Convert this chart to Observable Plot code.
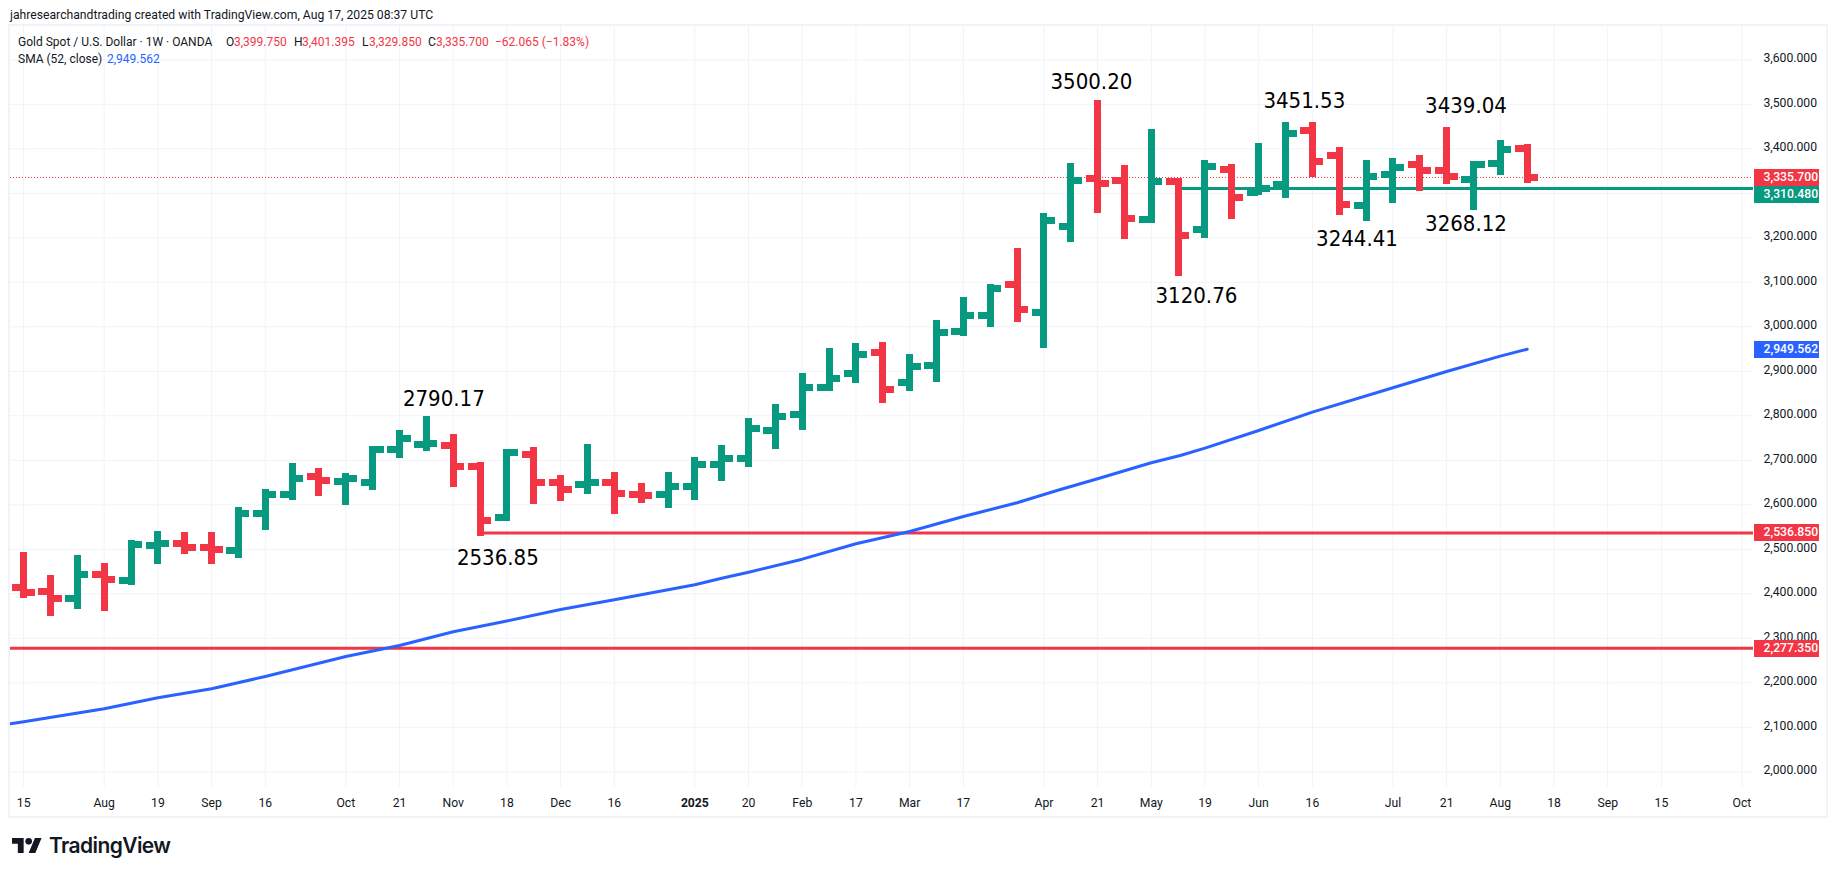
<!DOCTYPE html>
<html>
<head>
<meta charset="utf-8">
<script src="https://cdn.jsdelivr.net/npm/d3@7"></script>
<script src="https://cdn.jsdelivr.net/npm/@observablehq/plot@0.6"></script>
<style>
  html,body{margin:0;padding:0;background:#fff;overflow:hidden;}
  body{width:1835px;height:875px;position:relative;font-family:Roboto,sans-serif;color:#131722;}
  #hdr{height:26px;position:relative;}
  #hdr span{position:absolute;left:10px;top:7px;font-size:12.2px;line-height:16px;white-space:nowrap;}
  #chart{position:relative;height:790px;}
  #chart svg{display:block;}
  #box{position:absolute;left:8px;top:-2px;width:1816px;height:790px;border:2px solid #f0f3fa;pointer-events:none;}
  .lg{position:absolute;font-size:12px;line-height:16px;white-space:nowrap;}
  .r{color:#f23645}.bl{color:#2962ff}
  #ftr{position:absolute;left:12px;top:834px;display:flex;align-items:center;height:22px;}
  #ftr span{font:600 21px Inter,Roboto,sans-serif;letter-spacing:-.6px;color:#131722;margin-left:7px;}
</style>
</head>
<body>
<div id="hdr"><span>jahresearchandtrading created with TradingView.com, Aug 17, 2025 08:37 UTC</span></div>
<div id="chart">
  <div class="lg" style="top:8px;left:18px">Gold Spot / U.S. Dollar · 1W · OANDA</div>
  <div class="lg" style="top:8px;left:226px">O</div><div class="lg r" style="top:8px;left:234px">3,399.750</div>
  <div class="lg" style="top:8px;left:294px">H</div><div class="lg r" style="top:8px;left:302px">3,401.395</div>
  <div class="lg" style="top:8px;left:362px">L</div><div class="lg r" style="top:8px;left:369px">3,329.850</div>
  <div class="lg" style="top:8px;left:428px">C</div><div class="lg r" style="top:8px;left:436px">3,335.700</div>
  <div class="lg r" style="top:8px;left:495px">−62.065 (−1.83%)</div>
  <div class="lg" style="top:25px;left:18px">SMA (52, close)</div><div class="lg bl" style="top:25px;left:107px">2,949.562</div>
  <div id="box"></div>
</div>
<div id="ftr">
  <svg width="30" height="15" viewBox="0 0 36 18"><path fill="#131722" d="M14 18H7V7H0V0h14v18zM28 18h-8L27.5 0h8L28 18z"/><circle fill="#131722" cx="20" cy="4" r="4"/></svg>
  <span>TradingView</span>
</div>
<script>
// Weekly OHLC, Jul 15 2024 (week 0) to Aug 11 2025 (week 56)
const opens  = [2413.5,2405.2,2388.7,2442.7,2429.2,2507.8,2512.3,2504.1,2496.6,2579.7,2622.4,2662.9,2651.6,2650.1,2723.6,2734.8,2732.5,2685.4,2570.8,2712.3,2649.4,2644.9,2649.4,2622.4,2622.4,2640.4,2689.8,2703.3,2766.2,2802.2,2862.9,2894.4,2942.3,2874.2,2912.3,2988.7,3024.7,3094.4,3031.4,3224.7,3332.5,3328,3240.4,3325.8,3217.9,3353.5,3302.6,3319,3441.1,3384.9,3271.8,3342.2,3364,3350.5,3330.3,3366.2,3399.75];
const highs  = [2485,2433.3,2478.2,2460.2,2510.8,2532.1,2529.9,2529.9,2585.3,2626.5,2684.9,2673.7,2662.5,2724,2759.1,2790.17,2750.1,2687.1,2716.8,2720.9,2658,2727.6,2664.7,2640,2664.7,2698.4,2725.3,2786,2817.5,2887.2,2943.4,2954.6,2956.9,2929.9,3006.3,3058,3087.2,3168.1,3246.7,3359.1,3500.2,3354.6,3435.5,3325.8,3365.8,3356.8,3404,3451.53,3451.1,3395,3365.8,3370.3,3377,3439.04,3364,3410.7,3401.395];
const lows   = [2398.1,2356.9,2372.7,2368.2,2426.6,2473.8,2496.3,2473.8,2487.3,2550.2,2617.6,2626.6,2606.4,2640.1,2712,2727.7,2646.8,2536.85,2570.4,2608.6,2615.3,2631.1,2586.1,2610.8,2599.6,2617.5,2660.2,2691.7,2732.2,2774.9,2862.9,2880.5,2835.6,2862.6,2882.8,2986.2,3006.4,3017.6,2959.2,3197.4,3262.5,3204.1,3240.4,3120.76,3206.3,3249,3302.6,3296.2,3344.2,3258,3244.41,3285,3311.9,3327.7,3268.12,3347.9,3329.85];
const closes = [2402.2,2388.7,2443.4,2431.4,2510.8,2512.3,2503.3,2499.6,2579.7,2622.4,2658.4,2654.6,2658.4,2723.6,2748.3,2737,2685.4,2564,2716.8,2650.9,2633.7,2649.4,2624.6,2621.5,2640.4,2689.8,2703.3,2770.7,2797.6,2862.9,2883,2937,2858.4,2910.1,2986.5,3024.7,3085.4,3038.2,3238.2,3328,3321.3,3242.7,3325.8,3204.4,3359.5,3289.8,3310,3433.6,3370.7,3274.1,3337.7,3357.2,3350.5,3337,3364,3397.7,3335.7];

// SMA (52, close)
const smaWeeks  = [-0.49,0,3,5,7,9,12,14,16,18,20,22,25,26,27,29,31,33,35,37,38.49,40,42,43.08,44,46,48,51,53,55,56];
const smaValues = [2107.9,2112.4,2141.6,2166.3,2186.5,2214.2,2259.1,2283.8,2314.6,2339,2364.7,2386.5,2420.2,2435,2448.5,2477.8,2512.4,2540,2573.7,2604.5,2632.1,2658.4,2694.4,2710.8,2727.2,2767,2808.1,2862.9,2899.6,2934,2949.562];

// Axes
const yTicks = [2000,2100,2200,2300,2400,2500,2600,2700,2800,2900,3000,3100,3200,3300,3400,3500,3600];
const xTickWeeks  = [0,3,5,7,9,12,14,16,18,20,22,25,27,29,31,33,35,38,40,42,44,46,48,51,53,55,57,59,61,64];
const xTickLabels = ["15","Aug","19","Sep","16","Oct","21","Nov","18","Dec","16","2025","20","Feb","17","Mar","17","Apr","21","May","19","Jun","16","Jul","21","Aug","18","Sep","15","Oct"];

// Annotations
const noteTexts  = ["3500.20","3451.53","3439.04","3268.12","3244.41","3120.76","2790.17","2536.85"];
const noteWeeks  = [39.77,47.7,53.72,53.72,49.66,43.68,15.65,17.66];
const notePrices = [3551.2,3507,3497.3,3232.1,3198.4,3068.8,2838.9,2480];

// Horizontal levels
const lastClose = 3335.7, smaLast = 2949.562, supportLevel = 3310.48, lowLevel = 2536.85, floorLevel = 2277.35;

const RED = "#f23645", GREEN = "#089981", BLUE = "#2962ff", GRID = "#f0f3fa", INK = "#131722";
const xMin = -0.49, xMax = 64.43, yMin = 1964.7, yMax = 3674.8;
const halfTick = 0.43, tagEnd = xMax + 2.46;

const bars = opens.map((o,i)=>({i,open:o,high:highs[i],low:lows[i],close:closes[i]}));
const sma = smaWeeks.map((w,i)=>({w,v:smaValues[i]}));
const notes = noteTexts.map((t,i)=>({t,w:noteWeeks[i],p:notePrices[i]}));
const xLabel = new Map(xTickWeeks.map((w,i)=>[w,xTickLabels[i]]));
const fmt = d3.format(",.3f");

function barMarks(data,color){
  return [
    Plot.ruleX(data,{x:"i",y1:"low",y2:"high",stroke:color,strokeWidth:7,strokeLinecap:"square",shapeRendering:"crispEdges"}),
    Plot.ruleY(data,{y:"open",x1:d=>d.i-halfTick,x2:"i",stroke:color,strokeWidth:7,shapeRendering:"crispEdges"}),
    Plot.ruleY(data,{y:"close",x1:"i",x2:d=>d.i+halfTick,stroke:color,strokeWidth:7,shapeRendering:"crispEdges"})
  ];
}
function priceTag(v,color,dy=0){
  return [
    Plot.ruleY([v],{x1:xMax+0.04,x2:tagEnd,stroke:color,strokeWidth:17,dy,shapeRendering:"crispEdges"}),
    Plot.text([v],{y:d=>d,text:fmt,frameAnchor:"right",dx:10,dy:dy-0.5,textAnchor:"start",fill:"#fff",fontSize:12.2,fontWeight:500})
  ];
}

const plot = Plot.plot({
  width:1835, height:790,
  marginLeft:10, marginRight:82, marginTop:0, marginBottom:29,
  style:{fontFamily:"Roboto, sans-serif",fontSize:"12.2px",background:"#fff",overflow:"visible"},
  x:{domain:[xMin,xMax],label:null},
  y:{domain:[yMin,yMax],label:null},
  marks:[
    Plot.ruleX(xTickWeeks,{stroke:GRID,strokeWidth:1}),
    Plot.ruleY(yTicks,{stroke:GRID,strokeWidth:1}),
    Plot.axisY(yTicks,{anchor:"right",tickSize:0,tickPadding:10,dy:-1.5,tickFormat:fmt,label:null,color:INK,fontSize:12.2}),
    Plot.axisX(xTickWeeks.filter(w=>xLabel.get(w)!=="2025"),{anchor:"bottom",tickSize:0,tickPadding:10.5,tickFormat:w=>xLabel.get(w),label:null,color:INK,fontSize:12.2}),
    Plot.axisX(xTickWeeks.filter(w=>xLabel.get(w)==="2025"),{anchor:"bottom",tickSize:0,tickPadding:10.5,tickFormat:w=>xLabel.get(w),label:null,color:INK,fontSize:12.2,fontWeight:700}),
    Plot.ruleY([lastClose],{stroke:RED,strokeWidth:1,strokeDasharray:"1 2",shapeRendering:"crispEdges"}),
    Plot.ruleY([floorLevel],{stroke:RED,strokeWidth:3}),
    Plot.ruleY([lowLevel],{x1:17,x2:xMax,stroke:RED,strokeWidth:3}),
    Plot.ruleY([supportLevel],{x1:43,x2:xMax,stroke:GREEN,strokeWidth:3}),
    Plot.line(sma,{x:"w",y:"v",stroke:BLUE,strokeWidth:3,strokeLinejoin:"round"}),
    ...barMarks(bars.filter(d=>d.close>=d.open),GREEN),
    ...barMarks(bars.filter(d=>d.close<d.open),RED),
    Plot.text(notes,{x:"w",y:"p",text:"t",fontFamily:"DejaVu Sans Condensed, DejaVu Sans",fontStretch:"condensed",fontSize:22,fill:"#000"}),
    ...priceTag(floorLevel,RED),
    ...priceTag(lowLevel,RED),
    ...priceTag(smaLast,BLUE),
    ...priceTag(supportLevel,GREEN,6),
    ...priceTag(lastClose,RED)
  ]
});
document.getElementById("chart").prepend(plot);
</script>
</body>
</html>
